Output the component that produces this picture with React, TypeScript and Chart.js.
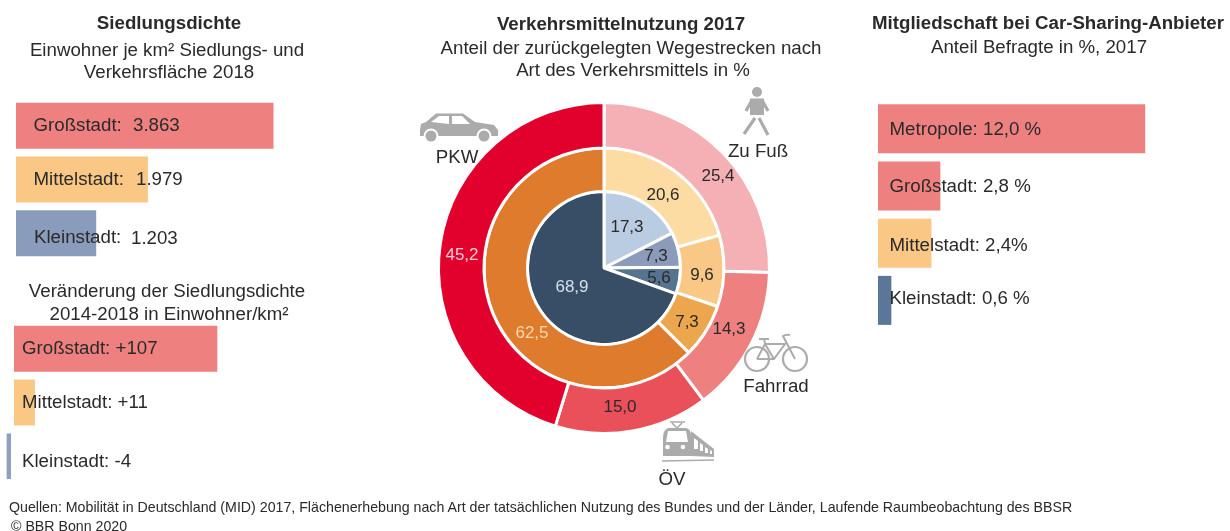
import React, { useEffect, useRef } from "react";
import { Chart, registerables } from "chart.js";

Chart.register(...registerables);

const FONT = '"Liberation Sans", Arial, sans-serif';
const INK = "#2A2A2A";

// Siedlungsdichte
const densityCategories = ["Großstadt:", "Mittelstadt:", "Kleinstadt:"];
const densityValues = [3863, 1979, 1203];
const densityColors = ["#EE8080", "#FAC784", "#8A9CBC"];

// Veränderung der Siedlungsdichte
const changeCategories = ["Großstadt:", "Mittelstadt:", "Kleinstadt:"];
const changeValues = [107, 11, -4];
const changeColors = ["#EE8080", "#FAC784", "#8E9FC2"];

// Car-Sharing
const sharingCategories = ["Metropole:", "Großstadt:", "Mittelstadt:", "Kleinstadt:"];
const sharingValues = [12.0, 2.8, 2.4, 0.6];
const sharingSuffixes = [" %", " %", "%", " %"];
const sharingColors = ["#EE8080", "#EE8080", "#FAC784", "#5A7799"];

// Verkehrsmittelnutzung (outer to inner ring, clockwise from the top)
const modes = ["Zu Fuß", "Fahrrad", "ÖV", "PKW"];
const modesMetropole = [25.4, 14.3, 15.0, 45.2];
const modesCity = [20.6, 9.6, 7.3, 62.5];
const modesTown = [17.3, 7.3, 5.6, 68.9];
const colorsMetropole = ["#F4B0B4", "#EE8080", "#E9505A", "#E2002C"];
const colorsCity = ["#FDDCA4", "#F9C886", "#EBA64E", "#DF7B2C"];
const colorsTown = ["#B9CCE2", "#8C9BBA", "#567390", "#384D66"];

const de1 = (v: number) =>
  v.toLocaleString("de-DE", { minimumFractionDigits: 1, maximumFractionDigits: 1 });
const deInt = (v: number) => v.toLocaleString("de-DE");
const signed = (v: number) => (v > 0 ? "+" : "") + v;

type BarText = { text: string; x: number; y: number };

// Places free text next to the bars, anchored on each bar's base and centre.
function barLabelPlugin(getTexts: (i: number) => BarText[]) {
  return {
    id: "barLabels",
    afterDatasetsDraw(chart: any) {
      const { ctx } = chart;
      ctx.save();
      ctx.font = `18.7px ${FONT}`;
      ctx.fillStyle = INK;
      ctx.textBaseline = "middle";
      ctx.textAlign = "left";
      chart.getDatasetMeta(0).data.forEach((bar: any, i: number) => {
        const zero = chart.scales.x.getPixelForValue(0);
        getTexts(i).forEach((t) => ctx.fillText(t.text, zero + t.x, bar.y + t.y + 1.5));
      });
      ctx.restore();
    },
  };
}

function makeBar(
  canvas: HTMLCanvasElement,
  categories: string[],
  values: number[],
  colors: string[],
  min: number,
  max: number,
  thickness: number,
  getTexts: (i: number) => BarText[],
  rightGap: number[] = []
) {
  return new Chart(canvas, {
    type: "bar",
    data: {
      labels: categories,
      datasets: [
        {
          data: values,
          backgroundColor: colors,
          barThickness: thickness,
          borderSkipped: false,
          inflateAmount: 0,
          borderColor: "#ffffff",
          borderWidth: categories.map((_, i) => ({ top: 0, bottom: 0, left: 0, right: rightGap[i] || 0 })),
        } as any,
      ],
    },
    options: {
      indexAxis: "y",
      animation: false,
      responsive: false,
      layout: { padding: 0 },
      plugins: { legend: { display: false }, tooltip: { enabled: false } },
      scales: {
        x: { display: false, min, max },
        y: { display: false, offset: true },
      },
    },
    plugins: [barLabelPlugin(getTexts)],
  });
}

const PIE_LEFT = 434;
const PIE_TOP = 98;
const PIE_SIZE = 340;

// Label centres in page pixels, ring by ring.
const pieLabelSpots = [
  [[718, 176], [729, 329], [620, 407], [462, 255]],
  [[663, 195], [702, 275], [687, 322], [532, 333]],
  [[627, 227], [656, 256], [659, 278], [572, 287]],
];
const pieLabelInk = [
  [INK, INK, INK, "#FBD2D2"],
  [INK, INK, INK, "#F7D9AE"],
  [INK, INK, INK, "#D3E0EA"],
];

const piePlugin = {
  id: "pieLabels",
  afterDatasetsDraw(chart: any) {
    const { ctx } = chart;
    ctx.save();
    ctx.font = `17px ${FONT}`;
    ctx.textAlign = "center";
    ctx.textBaseline = "middle";
    chart.data.datasets.forEach((ds: any, r: number) => {
      ds.data.forEach((v: number, i: number) => {
        ctx.fillStyle = pieLabelInk[r][i];
        const [px, py] = pieLabelSpots[r][i];
        ctx.fillText(de1(v), px - PIE_LEFT, py - PIE_TOP);
      });
    });
    ctx.restore();
  },
};

function Txt(props: {
  x: number;
  y: number;
  size?: number;
  bold?: boolean;
  left?: boolean;
  children: React.ReactNode;
}) {
  const { x, y, size = 18.7, bold, left, children } = props;
  return (
    <div
      style={{
        position: "absolute",
        left: x,
        top: y,
        transform: left ? "translateY(-50%)" : "translate(-50%,-50%)",
        whiteSpace: "nowrap",
        font: `${bold ? "bold " : ""}${size}px ${FONT}`,
        color: INK,
      }}
    >
      {children}
    </div>
  );
}

function Icons() {
  const g = "#ABABAB";
  return (
    <svg
      width={1230}
      height={531}
      viewBox="0 0 1230 531"
      style={{ position: "absolute", left: 0, top: 0, pointerEvents: "none" }}
    >
      {/* car */}
      <path d="M420 130 L421 124 L426 122 L436 113.5 L463 113.5 L475 122 L494 125 L498 130 L498 136 L420 136 Z" fill={g} />
      <path d="M431 122 L439 116 L449 116 L449 124 Z M452 116 L462 116 L470 124 L452 124 Z" fill="#fff" />
      <circle cx={431} cy={136} r={7.5} fill="#fff" />
      <circle cx={431} cy={136} r={5.5} fill={g} />
      <circle cx={484} cy={136} r={7.5} fill="#fff" />
      <circle cx={484} cy={136} r={5.5} fill={g} />
      {/* walker */}
      <circle cx={757} cy={92} r={5} fill={g} />
      <path d="M750 98.5 L764 98.5 L764 115 L750 115 Z" fill={g} />
      <path d="M752 100 L746 111 M762 100 L768 111 M755 118 L744 134 M759 118 L768 135" stroke={g} strokeWidth={3.2} fill="none" />
      {/* bike */}
      <circle cx={757} cy={359} r={12} stroke={g} strokeWidth={2.2} fill="none" />
      <circle cx={795} cy={359} r={12} stroke={g} strokeWidth={2.2} fill="none" />
      <path
        d="M757 359 L765 344 L785 344 L774 359 L757 359 M765 344 L774 359 M795 359 L783 336 Q786 334 790 335 M764 340 L767 348 M759 339 L769 339"
        stroke={g}
        strokeWidth={2}
        fill="none"
      />
      {/* train */}
      <path d="M668 428 L686 428 Q691 429 691 436 L691 456 L663 456 L663 438 Q663 430 668 428 Z" fill={g} />
      <path d="M668 431 L686 431 L688 442 L666 442 Z" fill="#fff" />
      <circle cx={667.5} cy={447} r={2.3} fill="#fff" />
      <circle cx={683} cy={447} r={2.3} fill="#fff" />
      <path d="M691 431 L714 449 L714 457 L691 456 Z" fill={g} />
      <path d="M694 438 L698 441 L698 449 L694 449 Z M700 443 L703 445 L703 451 L700 451 Z M705 447 L708 449 L708 453 L705 453 Z M710 450 L712 451 L712 454 L710 454 Z" fill="#fff" />
      <path d="M662 461 L714 460 M677 428 L672 423 M677 428 L682 423 M670 422 L685 422" stroke={g} strokeWidth={1.6} fill="none" />
    </svg>
  );
}

export default function App() {
  const a = useRef<HTMLCanvasElement>(null);
  const b = useRef<HTMLCanvasElement>(null);
  const c = useRef<HTMLCanvasElement>(null);
  const d = useRef<HTMLCanvasElement>(null);

  useEffect(() => {
    const densityXs = [117, 120, 115];
    const densityDy = [[-1.5, -1], [-1, -1], [3, 4]];
    const densityTextX = [17.5, 17.5, 18];
    const densityChart = makeBar(a.current!, densityCategories, densityValues, densityColors, 0, 4500, 46, (i) => [
      { text: densityCategories[i], x: densityTextX[i], y: densityDy[i][0] },
      { text: deInt(densityValues[i]), x: densityXs[i], y: densityDy[i][1] },
    ]);

    const changeDy = [-1.5, -1.5, 4];
    const changeChart = makeBar(
      b.current!,
      changeCategories,
      changeValues,
      changeColors,
      -14 / 1.9,
      214 / 1.9,
      46,
      (i) => [{ text: `${changeCategories[i]} ${signed(changeValues[i])}`, x: 8, y: changeDy[i] }],
      [0, 0, 3]
    );

    const sharingDy = [0, -1, 1, -3];
    const sharingChart = makeBar(c.current!, sharingCategories, sharingValues, sharingColors, 0, 15, 49, (i) => [
      { text: `${sharingCategories[i]} ${de1(sharingValues[i])}${sharingSuffixes[i]}`, x: 11.5, y: sharingDy[i] },
    ]);

    const pie = new Chart(d.current!, {
      type: "doughnut",
      data: {
        labels: modes,
        datasets: [
          { data: modesMetropole, backgroundColor: colorsMetropole, weight: 45.5 },
          { data: modesCity, backgroundColor: colorsCity, weight: 43.5 },
          { data: modesTown, backgroundColor: colorsTown, weight: 76.5 },
        ] as any,
      },
      options: {
        animation: false,
        responsive: false,
        radius: 165.5,
        cutout: 0,
        layout: { padding: 0 },
        borderColor: "#ffffff",
        borderWidth: 3,
        plugins: { legend: { display: false }, tooltip: { enabled: false } },
      } as any,
      plugins: [piePlugin],
    });

    return () => {
      densityChart.destroy();
      changeChart.destroy();
      sharingChart.destroy();
      pie.destroy();
    };
  }, []);

  const cv = (left: number, top: number, w: number, h: number, ref: React.RefObject<HTMLCanvasElement | null>) => (
    <canvas
      ref={ref}
      width={w}
      height={h}
      style={{ position: "absolute", left, top, width: w, height: h, display: "block" }}
    />
  );

  return (
    <div
      style={{
        position: "absolute",
        left: 0,
        top: 0,
        width: 1230,
        height: 531,
        overflow: "hidden",
        background: "#fff",
      }}
    >
      {cv(16, 99, 300, 161, a)}
      {cv(0, 322, 228, 161, b)}
      {cv(878, 100, 334, 229, c)}
      {cv(PIE_LEFT, PIE_TOP, PIE_SIZE, PIE_SIZE, d)}
      <Icons />

      <Txt x={169} y={23} bold>Siedlungsdichte</Txt>
      <Txt x={167} y={50}>Einwohner je km² Siedlungs- und</Txt>
      <Txt x={169} y={72}>Verkehrsfläche 2018</Txt>
      <Txt x={167} y={291}>Veränderung der Siedlungsdichte</Txt>
      <Txt x={169} y={314}>2014-2018 in Einwohner/km²</Txt>

      <Txt x={621} y={24} bold>Verkehrsmittelnutzung 2017</Txt>
      <Txt x={631} y={48}>Anteil der zurückgelegten Wegestrecken nach</Txt>
      <Txt x={633} y={70}>Art des Verkehrsmittels in %</Txt>

      <Txt x={1048} y={23} bold>Mitgliedschaft bei Car-Sharing-Anbieter</Txt>
      <Txt x={1039} y={47}>Anteil Befragte in %, 2017</Txt>

      <Txt x={457} y={157}>PKW</Txt>
      <Txt x={758} y={151}>Zu Fuß</Txt>
      <Txt x={776} y={386}>Fahrrad</Txt>
      <Txt x={672} y={479}>ÖV</Txt>

      <Txt x={9} y={507} size={14.2} left>
        Quellen: Mobilität in Deutschland (MID) 2017, Flächenerhebung nach Art der tatsächlichen Nutzung des Bundes und der Länder, Laufende Raumbeobachtung des BBSR
      </Txt>
      <Txt x={11} y={526} size={14.2} left>© BBR Bonn 2020</Txt>
    </div>
  );
}
